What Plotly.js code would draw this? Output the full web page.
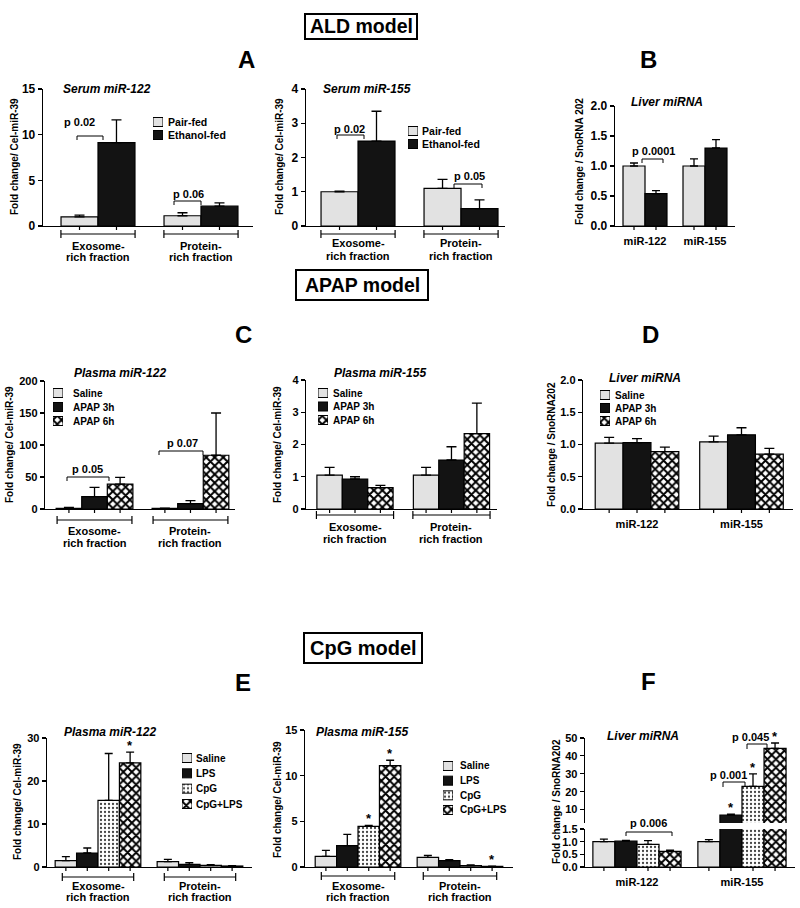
<!DOCTYPE html>
<html><head><meta charset="utf-8">
<script src="https://cdn.plot.ly/plotly-3.0.1.min.js"></script>
<style>html,body{margin:0;padding:0;background:#fff}#chart{width:800px;height:908px}</style>
</head><body><div id="chart"></div>
<script>
// ---------------- DATA ----------------
const fractionCats = ['Exosome-rich fraction', 'Protein-rich fraction'];
const fractionLines = [['Exosome-', 'rich fraction'], ['Protein-', 'rich fraction']];
const mirCats = ['miR-122', 'miR-155'];

const aldGroups = ['Pair-fed', 'Ethanol-fed'];
const apapGroups = ['Saline', 'APAP 3h', 'APAP 6h'];
const cpgGroups = ['Saline', 'LPS', 'CpG', 'CpG+LPS'];

// A: ALD serum miR-122
const aSerum122Pair = [1.0, 1.12];
const aSerum122PairErr = [0.2, 0.33];
const aSerum122Eth = [9.13, 2.17];
const aSerum122EthErr = [2.5, 0.37];
// A: ALD serum miR-155
const aSerum155Pair = [1.0, 1.1];
const aSerum155PairErr = [0.02, 0.26];
const aSerum155Eth = [2.48, 0.51];
const aSerum155EthErr = [0.87, 0.25];
// B: ALD liver miRNA
const bLiverPair = [1.0, 1.0];
const bLiverPairErr = [0.05, 0.12];
const bLiverEth = [0.54, 1.30];
const bLiverEthErr = [0.05, 0.14];
// C: APAP plasma miR-122
const cP122Saline = [1.0, 1.0];
const cP122SalineErr = [1.5, 0.5];
const cP122Apap3 = [19.2, 8.3];
const cP122Apap3Err = [14.5, 4.7];
const cP122Apap6 = [39, 84];
const cP122Apap6Err = [10.4, 66];
// C: APAP plasma miR-155
const cP155Saline = [1.05, 1.05];
const cP155SalineErr = [0.24, 0.24];
const cP155Apap3 = [0.93, 1.52];
const cP155Apap3Err = [0.07, 0.41];
const cP155Apap6 = [0.66, 2.34];
const cP155Apap6Err = [0.07, 0.94];
// D: APAP liver miRNA
const dSaline = [1.02, 1.04];
const dSalineErr = [0.09, 0.09];
const dApap3 = [1.03, 1.15];
const dApap3Err = [0.06, 0.11];
const dApap6 = [0.89, 0.85];
const dApap6Err = [0.07, 0.09];
// E: CpG plasma miR-122
const eP122Saline = [1.47, 1.24];
const eP122SalineErr = [0.93, 0.54];
const eP122Lps = [3.26, 0.62];
const eP122LpsErr = [1.16, 0.38];
const eP122Cpg = [15.5, 0.39];
const eP122CpgErr = [10.9, 0.15];
const eP122CpgLps = [24.2, 0.23];
const eP122CpgLpsErr = [2.5, 0.08];
// E: CpG plasma miR-155
const eP155Saline = [1.16, 1.06];
const eP155SalineErr = [0.66, 0.21];
const eP155Lps = [2.33, 0.69];
const eP155LpsErr = [1.24, 0.11];
const eP155Cpg = [4.44, 0.15];
const eP155CpgErr = [0.11, 0.07];
const eP155CpgLps = [11.1, 0.07];
const eP155CpgLpsErr = [0.59, 0.02];
// F: CpG liver miRNA
const fSaline = [1.0, 1.0];
const fSalineErr = [0.1, 0.08];
const fLps = [1.02, 6.9];
const fLpsErr = [0.03, 0.5];
const fCpg = [0.89, 23];
const fCpgErr = [0.15, 7];
const fCpgLps = [0.62, 44.2];
const fCpgLpsErr = [0.05, 3];

// ---------------- STYLE / LAYOUT ----------------
const W = 800, H = 908;
const FONT = 'Liberation Sans, Arial, Helvetica, sans-serif';
const PX = v => v / W;
const PY = v => 1 - v / H;

const STYLES = {
  light: {color: '#e2e2e2'},
  black: {color: '#131313'},
  dots: {color: '#ffffff', pattern: {shape: '.', fgcolor: '#444', bgcolor: '#fff', size: 4, solidity: 0.25, fillmode: 'replace'}},
  checker: {color: '#ffffff', pattern: {shape: 'x', fgcolor: '#000', bgcolor: '#fff', size: 6, solidity: 0.55, fillmode: 'replace'}}
};
function mk(style, lw) {
  const st = STYLES[style];
  const m = {color: st.color, line: {color: '#000', width: lw}};
  if (st.pattern) m.pattern = Object.assign({}, st.pattern);
  return m;
}
const aldStyles = ['light', 'black'];
const apapStyles = ['light', 'black', 'checker'];
const cpgStyles = ['light', 'black', 'dots', 'checker'];

function series(names, styles, vals, errs) {
  return names.map((n, i) => ({name: n, style: styles[i], y: vals[i], err: errs[i]}));
}

const panels = [
  {x: [43, 253], xr: [-0.534, 1.505], gw: 0.718, cats: fractionCats, xlabels: false, tf: 12, errW: 5,
   ys: [{dom: [89, 226], range: [0, 15], dtick: 5}],
   series: series(aldGroups, aldStyles, [aSerum122Pair, aSerum122Eth], [aSerum122PairErr, aSerum122EthErr]),
   group: {y: 234, half: 0.36, l1: 246, l2: 257}, stars: []},
  {x: [306, 505], xr: [-0.505, 1.427], gw: 0.718, cats: fractionCats, xlabels: false, tf: 12, errW: 5,
   ys: [{dom: [89, 226], range: [0, 4], dtick: 1}],
   series: series(aldGroups, aldStyles, [aSerum155Pair, aSerum155Eth], [aSerum155PairErr, aSerum155EthErr]),
   group: {y: 234, half: 0.36, l1: 243, l2: 256}, stars: []},
  {x: [615, 735], xr: [-0.5, 1.5], gw: 0.733, cats: mirCats, xlabels: true, tf: 12, errW: 4,
   ys: [{dom: [106, 226], range: [0, 2], dtick: 0.5, fmt: '.1f'}],
   series: series(aldGroups, aldStyles, [bLiverPair, bLiverEth], [bLiverPairErr, bLiverEthErr]), stars: []},
  {x: [45, 235], xr: [-0.516, 1.464], gw: 0.80, cats: fractionCats, xlabels: false, tf: 11, errW: 5,
   ys: [{dom: [381, 509], range: [0, 200], dtick: 50}],
   series: series(apapGroups, apapStyles, [cP122Saline, cP122Apap3, cP122Apap6], [cP122SalineErr, cP122Apap3Err, cP122Apap6Err]),
   group: {y: 520, half: 0.39, l1: 531, l2: 543}, stars: []},
  {x: [306, 497], xr: [-0.508, 1.472], gw: 0.79, cats: fractionCats, xlabels: false, tf: 11, errW: 5,
   ys: [{dom: [380, 509], range: [0, 4], dtick: 1}],
   series: series(apapGroups, apapStyles, [cP155Saline, cP155Apap3, cP155Apap6], [cP155SalineErr, cP155Apap3Err, cP155Apap6Err]),
   group: {y: 515, half: 0.40, l1: 527, l2: 539}, stars: []},
  {x: [583, 793], xr: [-0.517, 1.493], gw: 0.80, cats: mirCats, xlabels: true, tf: 11, errW: 5,
   ys: [{dom: [380, 509], range: [0, 2], dtick: 0.5, fmt: '.1f'}],
   series: series(apapGroups, apapStyles, [dSaline, dApap3, dApap6], [dSalineErr, dApap3Err, dApap6Err]), stars: []},
  {x: [47, 252], xr: [-0.5, 1.51], gw: 0.84, cats: fractionCats, xlabels: false, tf: 11, errW: 4,
   ys: [{dom: [738, 867], range: [0, 30], dtick: 10}],
   series: series(cpgGroups, cpgStyles, [eP122Saline, eP122Lps, eP122Cpg, eP122CpgLps], [eP122SalineErr, eP122LpsErr, eP122CpgErr, eP122CpgLpsErr]),
   group: {y: 877, half: 0.35, l1: 886, l2: 897}, stars: [{s: 3, c: 0, ax: 0}]},
  {x: [305, 513], xr: [-0.52, 1.52], gw: 0.84, cats: fractionCats, xlabels: false, tf: 11, errW: 4,
   ys: [{dom: [730, 867], range: [0, 15], dtick: 5}],
   series: series(cpgGroups, cpgStyles, [eP155Saline, eP155Lps, eP155Cpg, eP155CpgLps], [eP155SalineErr, eP155LpsErr, eP155CpgErr, eP155CpgLpsErr]),
   group: {y: 876, half: 0.36, l1: 886, l2: 897}, stars: [{s: 2, c: 0, ax: 0}, {s: 3, c: 0, ax: 0}, {s: 3, c: 1, ax: 0}]},
  {x: [585, 795], xr: [-0.495, 1.505], gw: 0.84, cats: mirCats, xlabels: true, tf: 11, errW: 4,
   ys: [{dom: [829, 867], range: [0, 1.5], dtick: 0.5, fmt: '.1f'},
        {dom: [738, 823], range: [2.5, 50], tickvals: [10, 20, 30, 40, 50]}],
   series: series(cpgGroups, cpgStyles, [fSaline, fLps, fCpg, fCpgLps], [fSalineErr, fLpsErr, fCpgErr, fCpgLpsErr]),
   stars: [{s: 1, c: 1, ax: 1}, {s: 2, c: 1, ax: 1}, {s: 3, c: 1, ax: 1}]}
];

const layout = {
  width: W, height: H, margin: {l: 0, r: 0, t: 0, b: 0},
  paper_bgcolor: '#fff', plot_bgcolor: 'rgba(0,0,0,0)', showlegend: false, barmode: 'overlay',
  font: {family: FONT, size: 11, color: '#000', weight: 'bold'},
  annotations: [], shapes: []
};
const traces = [];
let xi = 0, yi = 0;
const xKey = i => (i === 1 ? 'xaxis' : 'xaxis' + i);
const yKey = i => (i === 1 ? 'yaxis' : 'yaxis' + i);
const xRef = i => (i === 1 ? 'x' : 'x' + i);
const yRef = i => (i === 1 ? 'y' : 'y' + i);

function txt(xpx, ypx, s, size, extra) {
  layout.annotations.push(Object.assign({
    x: PX(xpx), y: PY(ypx), xref: 'paper', yref: 'paper', text: s, showarrow: false,
    xanchor: 'center', yanchor: 'middle',
    font: {family: FONT, size: size, color: '#000', weight: 'bold'}
  }, extra || {}));
}
function seg(x0, y0, x1, y1, xref, yref, w) {
  layout.shapes.push({type: 'line', x0: x0, y0: y0, x1: x1, y1: y1, xref: xref, yref: yref,
    line: {color: '#000', width: w || 1.2}});
}
function pBracket(label, tx, ty, x0, x1, yb, drop) {
  txt(tx, ty, label, 11);
  seg(PX(x0), PY(yb), PX(x1), PY(yb), 'paper', 'paper', 1);
  seg(PX(x0), PY(yb), PX(x0), PY(yb + drop), 'paper', 'paper', 1);
  seg(PX(x1), PY(yb), PX(x1), PY(yb + drop), 'paper', 'paper', 1);
}

panels.forEach(p => {
  xi++;
  const xr = xRef(xi);
  const firstY = yi + 1;
  const n = p.series.length, bw = p.gw / n;
  const offs = p.series.map((s, i) => -p.gw / 2 + i * bw);
  layout[xKey(xi)] = {
    domain: [PX(p.x[0]), PX(p.x[1])], range: p.xr, type: 'category',
    categoryorder: 'array', categoryarray: p.cats, anchor: yRef(firstY),
    showline: true, linewidth: 1.3, linecolor: '#000', showgrid: false, zeroline: false,
    ticks: p.xlabels ? 'outside' : '', ticklen: 4, tickcolor: 'rgba(0,0,0,0)',
    showticklabels: p.xlabels, fixedrange: true,
    tickfont: {family: FONT, size: 11, color: '#000', weight: 'bold'}
  };
  const yRefs = [];
  p.ys.forEach(yd => {
    yi++;
    const yr = yRef(yi);
    yRefs.push(yr);
    const ax = {
      domain: [PY(yd.dom[1]), PY(yd.dom[0])], range: yd.range, anchor: xr,
      showline: true, linewidth: 1.3, linecolor: '#000', ticks: 'outside', ticklen: 4, tickwidth: 1.2,
      tickcolor: '#000', showgrid: false, zeroline: false, fixedrange: true,
      tickfont: {family: FONT, size: p.tf, color: '#000', weight: 'bold'}
    };
    if (yd.tickvals) { ax.tickmode = 'array'; ax.tickvals = yd.tickvals; }
    else { ax.tickmode = 'linear'; ax.tick0 = 0; ax.dtick = yd.dtick; }
    if (yd.fmt) ax.tickformat = yd.fmt;
    layout[yKey(yi)] = ax;
    p.series.forEach((s, i) => {
      traces.push({
        type: 'bar', x: p.cats, y: s.y, xaxis: xr, yaxis: yr, name: s.name,
        offset: offs[i], width: bw, marker: mk(s.style, 1.2), cliponaxis: true,
        error_y: {type: 'data', symmetric: false, array: s.err, arrayminus: s.err.map(() => 0),
          color: '#000', thickness: 1.3, width: p.errW},
        hoverinfo: 'skip', showlegend: false
      });
    });
  });
  // small ticks below axis at every bar centre
  const axisBottom = p.ys[0].dom[1];
  p.cats.forEach((c, ci) => {
    offs.forEach(o => {
      const xc = ci + o + bw / 2;
      seg(xc, PY(axisBottom), xc, PY(axisBottom + 4), xr, 'paper', 1.2);
    });
  });
  // group brackets and two-line labels
  if (p.group) {
    p.cats.forEach((c, ci) => {
      const g = p.group;
      seg(ci - g.half, PY(g.y), ci + g.half, PY(g.y), xr, 'paper', 1.2);
      seg(ci - g.half, PY(g.y - 4), ci - g.half, PY(g.y + 4), xr, 'paper', 1.2);
      seg(ci + g.half, PY(g.y - 4), ci + g.half, PY(g.y + 4), xr, 'paper', 1.2);
      [g.l1, g.l2].forEach((ly, li) => {
        layout.annotations.push({x: ci, y: PY(ly), xref: xr, yref: 'paper', text: fractionLines[ci][li],
          showarrow: false, xanchor: 'center', yanchor: 'middle',
          font: {family: FONT, size: 11, color: '#000', weight: 'bold'}});
      });
    });
  }
  // significance stars
  p.stars.forEach(st => {
    const s = p.series[st.s];
    layout.annotations.push({x: st.c + offs[st.s] + bw / 2, y: s.y[st.c] + s.err[st.c],
      xref: xr, yref: yRefs[st.ax], text: '*', showarrow: false, xanchor: 'center', yanchor: 'bottom',
      yshift: -3, font: {family: FONT, size: 13, color: '#000', weight: 'bold'}});
  });
});

// legends drawn as tiny hidden subplots
function addLegend(names, styles, sx0, sx1, rows, labelX, fs) {
  xi++; yi++;
  const xr = xRef(xi), yr = yRef(yi);
  const n = names.length, s = (rows[n - 1] - rows[0]) / (n - 1);
  const top = rows[0] - s / 2, bot = rows[n - 1] + s / 2;
  layout[xKey(xi)] = {domain: [PX(sx0), PX(sx1)], range: [0, 1], visible: false, fixedrange: true, anchor: yr};
  layout[yKey(yi)] = {domain: [PY(bot), PY(top)], type: 'category', categoryorder: 'array', categoryarray: names,
    range: [n - 0.5, -0.5], side: 'right', anchor: xr, showline: false, showgrid: false, zeroline: false,
    ticks: 'outside', ticklen: Math.max(1, labelX - sx1 - 3), tickcolor: 'rgba(0,0,0,0)', fixedrange: true,
    tickfont: {family: FONT, size: fs, color: '#000', weight: 'bold'}};
  names.forEach((nm, i) => traces.push({type: 'bar', orientation: 'h', x: [1], y: [nm], base: 0,
    width: 9 / s, xaxis: xr, yaxis: yr, marker: mk(styles[i], 1), hoverinfo: 'skip', showlegend: false}));
}
addLegend(aldGroups, aldStyles, 153, 163, [122, 135], 168, 10.5);
addLegend(aldGroups, aldStyles, 408, 418, [131, 144], 422, 10.5);
addLegend(apapGroups, apapStyles, 53, 63, [393, 407, 421], 73, 10);
addLegend(apapGroups, apapStyles, 318, 328, [393, 407, 420], 333, 10);
addLegend(apapGroups, apapStyles, 600, 610, [395, 408, 421], 615, 10);
addLegend(cpgGroups, cpgStyles, 182, 192, [758, 773, 788, 804], 196, 10);
addLegend(cpgGroups, cpgStyles, 443, 453, [766, 780, 795, 810], 460, 10);

// chart titles
const titleFont = {family: FONT, size: 12, color: '#000', weight: 'bold', style: 'italic'};
[['Serum miR-122', 107, 89], ['Serum miR-155', 367, 89], ['Liver miRNA', 667, 102],
 ['Plasma miR-122', 120, 373], ['Plasma miR-155', 380, 373], ['Liver miRNA', 645, 378],
 ['Plasma miR-122', 110, 732], ['Plasma miR-155', 362, 732], ['Liver miRNA', 643, 736]]
  .forEach(t => txt(t[1], t[2], t[0], 12, {font: titleFont}));

// y-axis titles
const yt1 = 'Fold change/ Cel-miR-39';
[[yt1, 15, 157], [yt1, 280, 157], ['Fold change / SnoRNA 202', 580, 162],
 [yt1, 9, 445], [yt1, 277, 445], ['Fold change / SnoRNA202', 551, 445],
 [yt1, 17, 802], [yt1, 277, 800], ['Fold change / SnoRNA202', 556, 802]]
  .forEach(t => txt(t[1], t[2], t[0], 10, {textangle: -90}));

// panel letters
[['A', 246, 59], ['B', 648, 59], ['C', 243, 334], ['D', 650, 334], ['E', 243, 682], ['F', 648, 681]]
  .forEach(t => txt(t[1], t[2], t[0], 24));

// model header boxes
function header(label, x0, y0, x1, y1, fs) {
  layout.shapes.push({type: 'rect', xref: 'paper', yref: 'paper', x0: PX(x0), x1: PX(x1), y0: PY(y1), y1: PY(y0),
    line: {color: '#000', width: 2}, fillcolor: 'rgba(0,0,0,0)'});
  txt((x0 + x1) / 2, (y0 + y1) / 2, label, fs);
}
header('ALD model', 305, 14, 417, 39, 19.5);
header('APAP model', 296, 270, 428, 300, 19.5);
header('CpG model', 304, 633, 422, 663, 20);

// p-value brackets
pBracket('p 0.02', 79, 122, 77, 103, 136, 4);
pBracket('p 0.06', 188, 194, 174, 201, 201, 4);
pBracket('p 0.02', 349, 129, 337, 364, 135, 4);
pBracket('p 0.05', 469, 176, 454, 482, 184, 4);
pBracket('p 0.0001', 653, 151, 642, 663, 159, 4);
pBracket('p 0.05', 87, 469, 67, 109, 477, 4);
pBracket('p 0.07', 182, 443, 159, 203, 451, 4);
pBracket('p 0.006', 648, 823, 626, 672, 832, 4);
pBracket('p 0.001', 728, 775, 723, 745, 782, 5);
pBracket('p 0.045', 750, 737, 747, 767, 744, 5);

Plotly.newPlot('chart', traces, layout, {staticPlot: true, displayModeBar: false});
</script>
</body></html>
